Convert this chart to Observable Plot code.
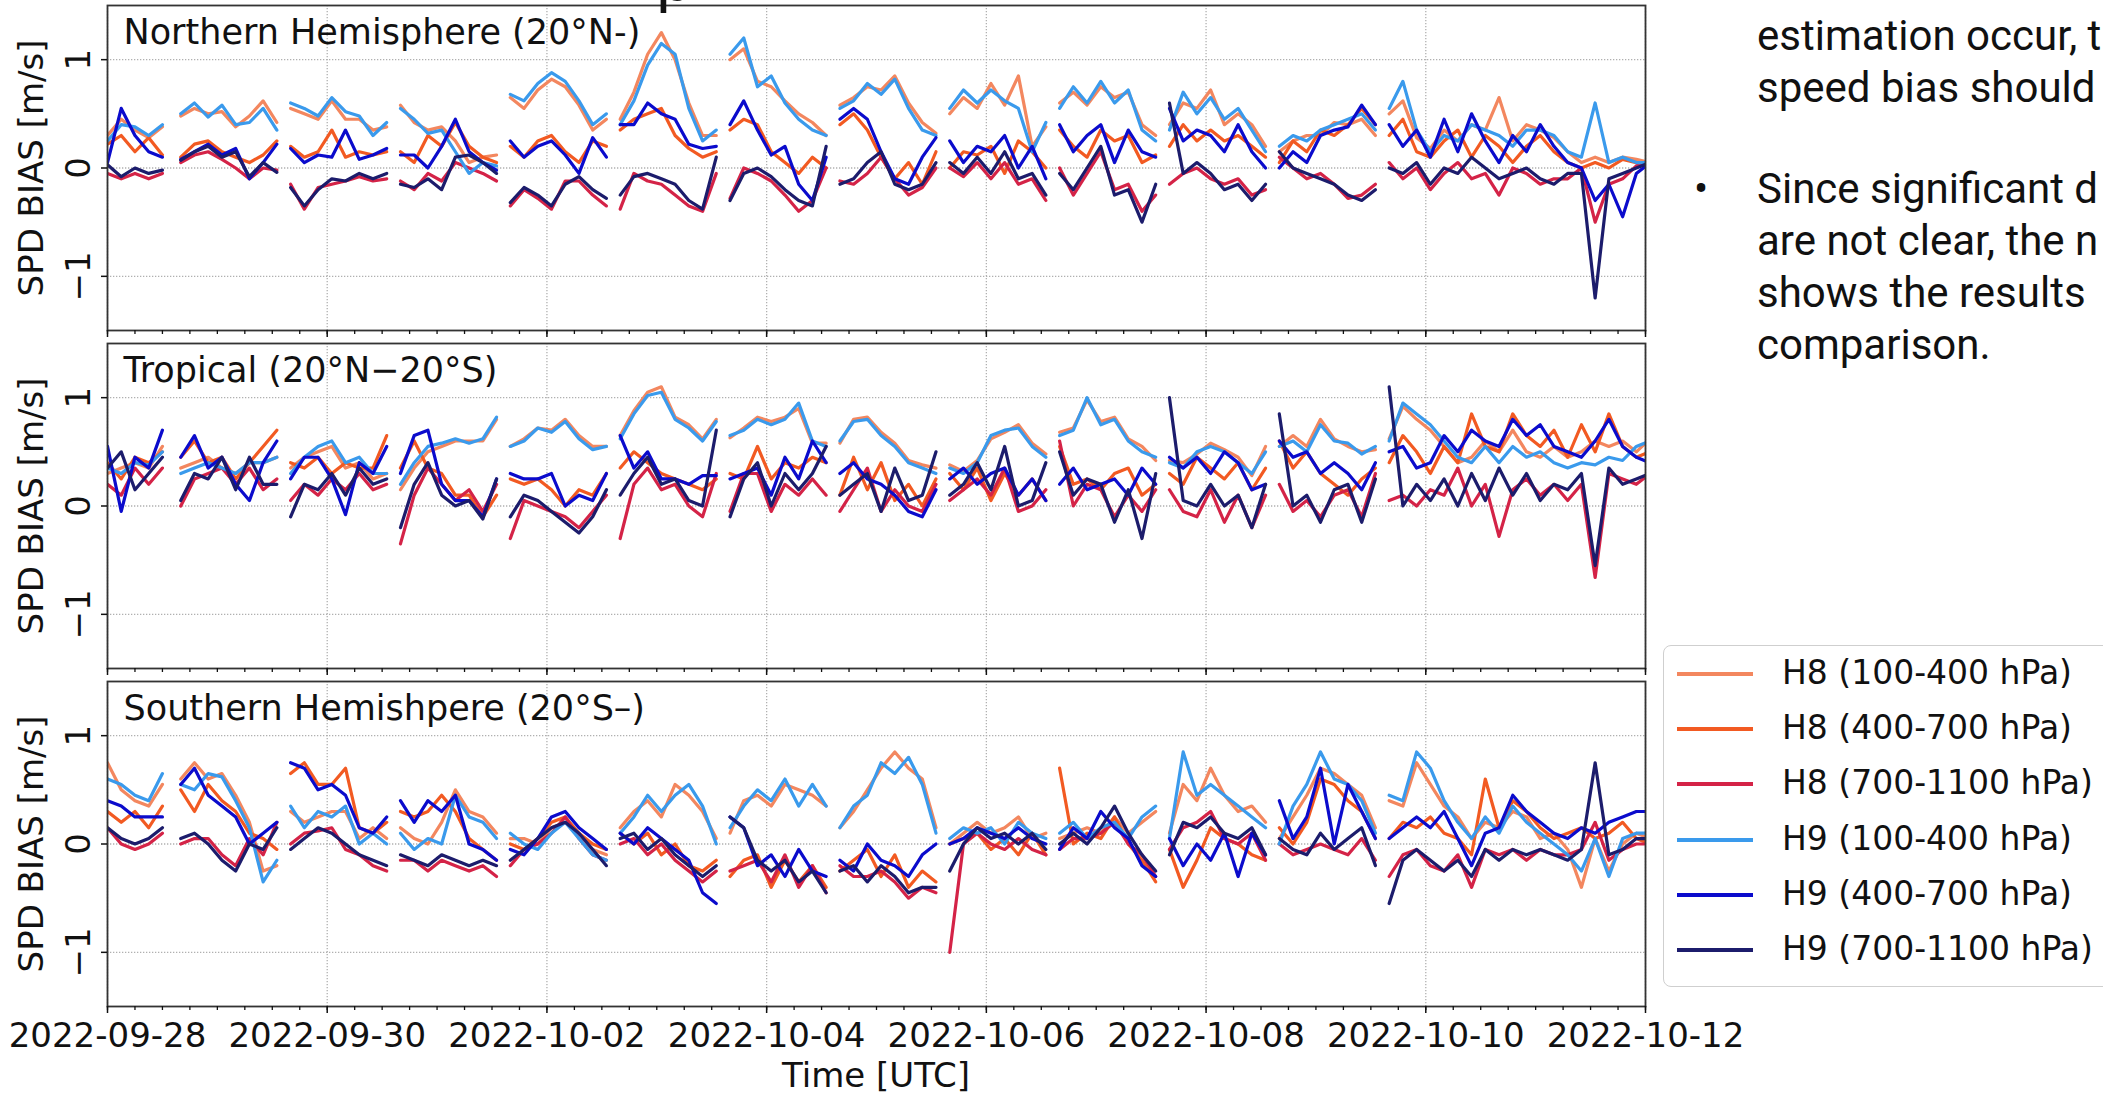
<!DOCTYPE html>
<html>
<head>
<meta charset="utf-8">
<script src="https://cdn.jsdelivr.net/npm/d3@7"></script>
<script src="https://cdn.jsdelivr.net/npm/@observablehq/plot@0.6"></script>
<style>
html, body { margin: 0; padding: 0; background: #fff; }
body { width: 2103px; height: 1093px; overflow: hidden; position: relative; font-family: "DejaVu Sans", sans-serif; color: #111; }
.panel { position: absolute; left: 0; width: 1760px; }
.panel svg { overflow: visible; display: block; }
#titlefrag { position: absolute; left: 655px; top: -52px; font: 62px/62px "DejaVu Sans"; color: #111; z-index: 5; }
#xlabel { position: absolute; left: 107px; width: 1538px; top: 1055px; text-align: center; font: 34px/40px "DejaVu Sans"; color: #111; }
#legend { position: absolute; left: 1663px; top: 645px; width: 470px; height: 342px; border: 1.5px solid #cfcfcf; border-radius: 8px; background: #fff; box-sizing: border-box; z-index: 4; }
.lg-line { position: absolute; left: 13px; width: 76px; height: 4px; }
.lg-text { position: absolute; left: 118px; font: 33px/40px "DejaVu Sans"; color: #111; white-space: nowrap; }
.note { position: absolute; left: 1757px; font: 42px/42px Roboto, sans-serif; color: #111; white-space: nowrap; }
.bullet { position: absolute; left: 1694px; font: 42px/42px Roboto, sans-serif; color: #111; }
</style>
</head>
<body>
<div id="titlefrag">p</div>
<div id="p0" class="panel" style="top:0px"></div>
<div id="p1" class="panel" style="top:338px"></div>
<div id="p2" class="panel" style="top:676px"></div>
<div id="xlabel">Time [UTC]</div>
<div id="legend"></div>
<div class="note" style="top:15px">estimation occur, t</div>
<div class="note" style="top:67px">speed bias should</div>
<div class="bullet" style="top:168px">•</div>
<div class="note" style="top:168px">Since significant d</div>
<div class="note" style="top:220px">are not clear, the n</div>
<div class="note" style="top:272px">shows the results</div>
<div class="note" style="top:324px">comparison.</div>
<script>
// ---------- categories ----------
const seriesNames = ["H8 (100-400 hPa)", "H8 (400-700 hPa)", "H8 (700-1100 hPa)", "H9 (100-400 hPa)", "H9 (400-700 hPa)", "H9 (700-1100 hPa)"];
const seriesColors = ["#f3875f", "#f25a22", "#d42347", "#3a9aec", "#0b0bcc", "#1c1c6c"];
const regionTitles = ["Northern Hemisphere (20°N-)", "Tropical (20°N\u221220°S)", "Southern Hemishpere (20°S\u2013)"];
const yLabel = "SPD BIAS [m/s]";
const xDomain = ["2022-09-28T00:00Z", "2022-10-12T00:00Z"];
const yTickValues = [-1, 0, 1];
// observation segments: start time of each run, samples every 3 hours
const segStart = ["2022-09-28T00:00Z","2022-09-28T16:00Z","2022-09-29T16:00Z","2022-09-30T16:00Z","2022-10-01T16:00Z","2022-10-02T16:00Z","2022-10-03T16:00Z","2022-10-04T16:00Z","2022-10-05T16:00Z","2022-10-06T16:00Z","2022-10-07T16:00Z","2022-10-08T16:00Z","2022-10-09T16:00Z"];
const stepHours = 3;

// ---------- Northern Hemisphere ----------
const nh_h8_100_400 = [[0.30,0.45,0.35,0.28,0.38],[0.48,0.55,0.50,0.52,0.38,0.48,0.62,0.42],[0.55,0.50,0.45,0.62,0.45,0.45,0.35,0.38],[0.58,0.42,0.35,0.38,0.25,0.05,0.10,0.12],[0.65,0.55,0.72,0.82,0.75,0.58,0.35,0.45],[0.45,0.70,1.05,1.25,1.00,0.60,0.30,0.30],[1.00,1.10,0.80,0.75,0.62,0.50,0.42,0.30],[0.58,0.65,0.75,0.72,0.85,0.60,0.42,0.32],[0.50,0.65,0.55,0.78,0.58,0.85,0.20,0.38],[0.60,0.70,0.58,0.75,0.65,0.70,0.40,0.30],[0.40,0.60,0.55,0.72,0.40,0.50,0.40,0.20],[0.15,0.25,0.30,0.30,0.42,0.40,0.45,0.30],[0.50,0.62,0.28,0.18,0.35,0.25,0.40,0.35,0.65,0.25,0.40,0.35,0.28,0.15,0.05,0.10,0.05,0.10,0.08,0.05]];
const nh_h8_400_700 = [[0.22,0.30,0.15,0.28,0.12],[0.10,0.22,0.25,0.15,0.10,0.05,0.12,0.25],[0.20,0.10,0.15,0.35,0.10,0.15,0.12,0.15],[0.15,0.05,0.30,0.20,0.42,0.20,0.10,0.05],[0.20,0.10,0.25,0.30,0.15,0.05,0.25,0.20],[0.35,0.45,0.50,0.55,0.30,0.18,0.10,0.15],[0.35,0.45,0.40,0.15,0.05,-0.05,0.10,0.00],[0.40,0.50,0.35,0.10,-0.10,0.05,-0.15,0.15],[0.00,0.15,0.12,0.20,-0.05,0.25,0.15,0.00],[0.35,0.20,0.10,0.35,0.25,0.30,0.05,0.12],[0.20,0.40,0.25,0.35,0.25,0.30,0.20,0.10],[0.05,0.25,0.15,0.35,0.30,0.40,0.55,0.40],[0.30,0.45,0.15,0.10,0.25,0.35,0.10,0.30,0.20,0.05,0.20,0.30,0.15,0.05,0.00,0.05,0.00,0.08,0.05,0.02]];
const nh_h8_700_1100 = [[-0.05,-0.10,-0.05,-0.10,-0.05],[0.05,0.12,0.15,0.08,0.00,-0.10,0.00,-0.02],[-0.15,-0.38,-0.18,-0.15,-0.12,-0.08,-0.12,-0.10],[-0.12,-0.20,-0.05,-0.12,0.05,0.00,-0.05,-0.12],[-0.35,-0.20,-0.28,-0.38,-0.12,-0.12,-0.25,-0.35],[-0.38,-0.05,-0.12,-0.15,-0.25,-0.35,-0.40,-0.05],[-0.28,0.00,-0.05,-0.12,-0.25,-0.40,-0.30,0.00],[-0.12,-0.15,-0.05,0.10,-0.10,-0.25,-0.18,0.00],[0.00,-0.08,0.05,-0.10,0.05,-0.15,-0.10,-0.30],[0.00,-0.25,-0.05,0.15,-0.20,-0.15,-0.40,-0.25],[-0.15,-0.05,0.00,-0.10,-0.15,-0.10,-0.25,-0.20],[0.10,0.00,-0.10,-0.05,-0.15,-0.28,-0.25,-0.15],[0.05,-0.10,0.00,-0.20,-0.05,0.05,-0.10,-0.05,-0.25,0.00,-0.05,-0.15,-0.10,-0.10,0.00,-0.50,-0.15,-0.10,0.02,0.05]];
const nh_h9_100_400 = [[0.25,0.40,0.38,0.30,0.40],[0.50,0.60,0.47,0.58,0.40,0.42,0.55,0.35],[0.60,0.55,0.48,0.65,0.52,0.48,0.30,0.42],[0.55,0.45,0.32,0.35,0.15,-0.05,0.05,0.02],[0.68,0.62,0.78,0.88,0.80,0.62,0.40,0.50],[0.40,0.62,0.95,1.15,1.05,0.55,0.25,0.35],[1.05,1.20,0.75,0.85,0.60,0.45,0.35,0.30],[0.55,0.62,0.78,0.68,0.82,0.55,0.35,0.30],[0.55,0.72,0.60,0.72,0.62,0.55,0.15,0.42],[0.55,0.75,0.60,0.80,0.60,0.72,0.35,0.25],[0.35,0.70,0.50,0.65,0.45,0.55,0.35,0.15],[0.20,0.30,0.25,0.35,0.40,0.45,0.50,0.35],[0.55,0.80,0.35,0.15,0.30,0.25,0.40,0.35,0.30,0.20,0.35,0.35,0.30,0.15,0.10,0.60,0.05,0.10,0.05,0.05]];
const nh_h9_400_700 = [[0.05,0.55,0.30,0.15,0.10],[0.08,0.15,0.22,0.12,0.18,-0.10,0.05,0.22],[0.18,0.05,0.12,0.10,0.35,0.08,0.12,0.18],[0.12,0.12,0.00,0.20,0.45,0.15,0.05,-0.02],[0.25,0.10,0.20,0.25,0.12,-0.05,0.28,0.10],[0.40,0.40,0.60,0.50,0.45,0.22,0.18,0.20],[0.40,0.62,0.35,0.12,0.20,-0.15,-0.30,0.10],[0.45,0.55,0.45,0.15,-0.10,-0.15,0.10,0.28],[0.25,0.05,0.20,0.15,0.30,0.00,0.20,-0.10],[0.40,0.15,0.30,0.40,0.05,0.35,0.15,0.10],[0.55,0.25,0.35,0.30,0.15,0.40,0.15,0.00],[0.00,0.15,0.05,0.30,0.35,0.38,0.58,0.40],[0.40,0.20,0.35,0.10,0.45,0.15,0.50,0.25,0.05,0.30,0.15,0.40,0.20,0.05,0.00,-0.30,-0.15,-0.45,-0.05,0.05]];
const nh_h9_700_1100 = [[0.03,-0.08,0.00,-0.05,-0.02],[0.07,0.15,0.20,0.10,0.15,-0.08,0.05,-0.04],[-0.18,-0.35,-0.20,-0.10,-0.12,-0.05,-0.10,-0.05],[-0.15,-0.18,-0.10,-0.20,0.10,0.12,0.05,-0.05],[-0.32,-0.18,-0.25,-0.35,-0.15,-0.08,-0.20,-0.28],[-0.25,-0.08,-0.05,-0.10,-0.15,-0.30,-0.38,0.10],[-0.30,-0.05,0.00,-0.08,-0.20,-0.30,-0.35,0.20],[-0.15,-0.10,0.05,0.15,-0.15,-0.20,-0.15,0.05],[0.05,-0.05,0.10,-0.05,0.15,-0.10,-0.05,-0.25],[-0.05,-0.20,0.00,0.20,-0.25,-0.20,-0.50,-0.15],[0.60,-0.05,0.05,-0.05,-0.20,-0.15,-0.30,-0.15],[0.15,0.00,-0.05,-0.10,-0.15,-0.25,-0.30,-0.20],[0.00,-0.05,0.05,-0.15,0.00,-0.05,0.10,0.00,-0.10,-0.05,0.00,-0.10,-0.15,-0.05,-0.05,-1.20,-0.10,-0.05,0.00,0.05]];

// ---------- Tropical ----------
const tr_h8_100_400 = [[0.30,0.35,0.40,0.35,0.55],[0.35,0.40,0.45,0.35,0.30,0.40,0.40,0.45],[0.35,0.45,0.50,0.55,0.35,0.40,0.25,0.30],[0.15,0.35,0.50,0.55,0.60,0.60,0.60,0.80],[0.55,0.62,0.72,0.70,0.80,0.65,0.55,0.55],[0.65,0.88,1.05,1.10,0.82,0.75,0.62,0.80],[0.63,0.72,0.82,0.78,0.82,0.90,0.58,0.58],[0.58,0.80,0.82,0.68,0.58,0.42,0.38,0.35],[0.38,0.32,0.42,0.62,0.68,0.75,0.58,0.48],[0.68,0.72,0.98,0.78,0.82,0.62,0.55,0.42],[0.42,0.40,0.48,0.58,0.52,0.45,0.28,0.55],[0.55,0.65,0.55,0.80,0.62,0.55,0.50,0.52],[0.62,0.92,0.80,0.70,0.55,0.40,0.45,0.60,0.50,0.70,0.50,0.45,0.55,0.45,0.50,0.60,0.55,0.60,0.50,0.62]];
const tr_h8_400_700 = [[0.40,0.25,0.45,0.40,0.50],[0.45,0.60,0.40,0.45,0.25,0.40,0.55,0.70],[0.40,0.35,0.45,0.30,0.40,0.35,0.35,0.65],[0.35,0.60,0.35,0.30,0.10,0.10,-0.10,0.10],[0.25,0.20,0.25,0.15,0.00,0.15,0.10,0.30],[0.35,0.50,0.40,0.30,0.25,0.20,0.15,0.25],[0.30,0.25,0.55,0.25,0.40,0.35,0.45,0.40],[0.10,0.45,0.15,0.40,0.05,0.20,0.00,0.25],[0.30,0.15,0.35,0.05,0.30,0.10,0.25,0.05],[0.55,0.20,0.25,0.15,0.30,0.35,0.10,0.20],[0.30,0.20,0.45,0.35,0.25,0.40,0.15,0.35],[0.60,0.35,0.50,0.30,0.20,0.10,0.25,0.35],[0.40,0.65,0.50,0.30,0.55,0.40,0.85,0.55,0.50,0.85,0.65,0.55,0.70,0.45,0.75,0.50,0.85,0.55,0.45,0.50]];
const tr_h8_700_1100 = [[0.20,0.10,0.35,0.20,0.35],[0.00,0.25,0.30,0.35,0.20,0.35,0.15,0.25],[0.05,0.20,0.10,0.25,0.15,0.30,0.15,0.20],[-0.35,0.10,0.35,0.20,0.05,0.15,-0.05,0.20],[-0.30,0.05,0.00,-0.05,-0.10,-0.20,-0.05,0.10],[-0.30,0.20,0.35,0.15,0.20,0.00,-0.10,0.30],[-0.05,0.30,0.30,-0.05,0.20,0.10,0.25,0.10],[-0.05,0.15,0.35,-0.05,0.15,0.00,-0.05,0.20],[0.05,0.15,0.25,0.10,0.35,-0.05,0.00,0.15],[0.60,0.00,0.20,0.15,-0.10,0.10,-0.05,0.15],[0.15,-0.05,-0.10,0.15,-0.15,0.10,-0.20,0.10],[0.20,-0.05,0.05,-0.10,0.10,0.15,-0.10,0.30],[0.05,0.10,0.00,0.15,0.10,0.35,0.00,0.20,-0.28,0.15,0.25,0.10,0.20,0.05,0.20,-0.66,0.30,0.25,0.20,0.30]];
const tr_h9_100_400 = [[0.35,0.30,0.40,0.38,0.50],[0.30,0.35,0.40,0.35,0.30,0.40,0.40,0.45],[0.30,0.45,0.55,0.60,0.40,0.45,0.30,0.30],[0.20,0.40,0.55,0.58,0.62,0.58,0.62,0.82],[0.55,0.60,0.72,0.68,0.78,0.62,0.52,0.55],[0.62,0.85,1.02,1.05,0.80,0.72,0.60,0.78],[0.65,0.70,0.80,0.75,0.80,0.95,0.60,0.55],[0.60,0.78,0.80,0.65,0.55,0.40,0.35,0.30],[0.35,0.30,0.40,0.65,0.70,0.72,0.55,0.45],[0.65,0.70,1.00,0.75,0.80,0.60,0.50,0.45],[0.40,0.35,0.50,0.55,0.50,0.40,0.30,0.50],[0.55,0.60,0.50,0.75,0.60,0.58,0.48,0.55],[0.60,0.95,0.85,0.75,0.60,0.45,0.40,0.55,0.40,0.55,0.45,0.50,0.40,0.35,0.40,0.38,0.45,0.42,0.55,0.60]];
const tr_h9_400_700 = [[0.55,-0.05,0.45,0.35,0.70],[0.45,0.65,0.35,0.45,0.20,0.05,0.40,0.60],[0.25,0.45,0.45,0.25,-0.08,0.40,0.30,0.55],[0.30,0.65,0.70,0.20,0.05,0.05,-0.10,0.25],[0.30,0.25,0.25,0.30,0.00,0.10,0.05,0.30],[0.65,0.35,0.50,0.25,0.25,0.20,0.28,0.28],[0.25,0.30,0.35,0.10,0.45,0.25,0.60,0.40],[0.30,0.40,0.25,0.20,0.10,-0.05,-0.10,0.15],[0.25,0.35,0.20,0.30,0.35,0.10,0.25,0.05],[0.20,0.35,0.15,0.20,0.25,0.10,0.35,0.20],[0.45,0.35,0.45,0.30,0.50,0.40,0.15,0.20],[0.60,0.45,0.50,0.30,0.40,0.30,0.15,0.40],[0.50,0.55,0.35,0.40,0.65,0.50,0.70,0.60,0.55,0.80,0.65,0.75,0.55,0.50,0.45,0.60,0.80,0.55,0.45,0.40]];
const tr_h9_700_1100 = [[0.35,0.50,0.15,0.30,0.45],[0.05,0.30,0.25,0.45,0.15,0.45,0.20,0.20],[-0.10,0.20,0.15,0.30,0.10,0.35,0.20,0.25],[-0.20,0.20,0.40,0.10,0.00,0.05,-0.12,0.25],[-0.10,0.10,0.05,-0.05,-0.15,-0.25,-0.10,0.15],[0.10,0.30,0.45,0.20,0.25,0.05,0.00,0.70],[-0.10,0.25,0.40,0.00,0.30,0.15,0.30,0.55],[0.10,0.20,0.30,-0.05,0.35,0.05,0.10,0.50],[0.10,0.20,0.40,0.15,0.55,0.00,0.05,0.40],[0.50,0.10,0.25,0.20,-0.15,0.15,-0.30,0.30],[1.00,0.05,0.00,0.20,0.00,0.10,-0.20,0.20],[0.85,0.00,0.10,-0.15,0.15,0.20,-0.15,0.25],[1.10,0.00,0.20,0.05,0.25,0.00,0.30,0.05,0.35,0.10,0.30,0.05,0.20,0.15,0.30,-0.55,0.35,0.20,0.25,0.30]];

// ---------- Southern Hemisphere ----------
const sh_h8_100_400 = [[0.75,0.50,0.40,0.35,0.55],[0.60,0.75,0.60,0.65,0.45,0.20,-0.25,-0.20],[0.30,0.20,0.25,0.30,0.30,0.05,0.15,0.05],[0.15,0.05,0.00,0.20,0.50,0.30,0.25,0.10],[0.05,0.05,0.00,0.15,0.20,0.10,-0.05,-0.10],[0.15,0.30,0.40,0.25,0.55,0.45,0.30,0.05],[0.10,0.40,0.45,0.35,0.55,0.50,0.45,0.35],[0.15,0.30,0.50,0.70,0.85,0.70,0.60,0.15],[0.00,0.10,0.20,0.10,0.15,0.25,0.05,0.10],[0.05,0.10,0.15,0.10,0.25,0.10,0.20,0.30],[0.10,0.55,0.40,0.70,0.45,0.30,0.35,0.20],[0.05,0.25,0.45,0.70,0.65,0.55,0.45,0.15],[0.40,0.35,0.75,0.55,0.35,0.25,0.05,0.20,0.15,0.30,0.25,0.05,0.10,-0.05,-0.40,0.05,-0.25,0.00,0.10,0.05]];
const sh_h8_400_700 = [[0.30,0.20,0.30,0.15,0.35],[0.50,0.30,0.55,0.40,0.30,0.10,0.05,-0.05],[0.65,0.75,0.55,0.55,0.70,0.15,0.10,0.20],[0.30,0.25,0.30,0.45,0.30,0.05,-0.05,-0.15],[0.00,-0.05,0.05,0.20,0.25,0.10,0.00,-0.05],[0.10,0.00,0.10,-0.10,0.00,-0.20,-0.25,-0.15],[-0.30,-0.15,-0.10,-0.40,-0.15,-0.35,-0.20,-0.40],[-0.25,-0.15,-0.05,-0.30,-0.10,-0.40,-0.25,-0.35],[0.00,0.05,0.10,-0.05,0.05,-0.10,0.10,-0.10],[0.70,0.00,0.10,0.05,0.25,0.00,-0.15,-0.35],[-0.05,-0.40,-0.15,0.15,0.05,0.00,-0.10,-0.15],[0.15,0.00,0.20,0.60,0.55,0.40,0.30,0.05],[0.05,0.20,0.15,0.25,0.10,0.05,-0.10,0.60,0.15,0.40,0.30,0.15,0.05,0.10,0.15,0.05,0.10,0.20,0.05,0.00]];
const sh_h8_700_1100 = [[0.15,0.00,-0.05,0.00,0.10],[0.00,0.05,0.05,-0.10,-0.20,0.05,-0.10,0.20],[0.00,0.10,0.12,0.15,-0.05,-0.10,-0.20,-0.25],[-0.15,-0.15,-0.25,-0.15,-0.20,-0.25,-0.20,-0.30],[-0.20,-0.05,0.00,0.10,0.25,0.05,-0.10,-0.15],[0.00,0.05,-0.10,0.00,-0.15,-0.25,-0.35,-0.25],[-0.25,-0.20,-0.15,-0.35,-0.10,-0.40,-0.20,-0.45],[-0.20,-0.30,-0.30,-0.25,-0.35,-0.50,-0.40,-0.45],[-1.00,0.00,0.10,0.00,-0.05,0.05,-0.05,-0.10],[-0.05,0.05,0.05,0.10,0.20,0.00,-0.10,-0.30],[-0.05,0.15,0.20,0.30,0.05,0.00,0.10,-0.15],[0.00,-0.10,-0.05,0.00,-0.05,-0.10,0.05,-0.15],[-0.30,-0.10,-0.05,-0.20,-0.25,-0.10,-0.40,-0.05,-0.10,-0.05,-0.15,-0.05,-0.10,-0.10,-0.05,0.20,-0.15,-0.05,0.00,0.00]];
const sh_h9_100_400 = [[0.60,0.55,0.45,0.40,0.65],[0.55,0.50,0.65,0.62,0.40,0.15,-0.35,-0.15],[0.35,0.15,0.30,0.25,0.35,0.00,0.10,0.00],[0.10,-0.05,0.05,0.00,0.45,0.25,0.20,0.05],[0.10,0.00,-0.05,0.10,0.20,0.05,-0.10,-0.15],[0.10,0.25,0.45,0.30,0.45,0.55,0.35,0.00],[0.15,0.35,0.50,0.40,0.60,0.35,0.55,0.35],[0.15,0.35,0.45,0.75,0.65,0.80,0.55,0.10],[0.05,0.15,0.10,0.15,0.00,0.20,0.10,0.05],[0.10,0.20,0.05,0.15,0.20,0.05,0.25,0.35],[0.05,0.85,0.45,0.55,0.45,0.35,0.25,0.15],[0.00,0.35,0.55,0.85,0.60,0.55,0.40,0.10],[0.45,0.40,0.85,0.70,0.40,0.20,0.05,0.25,0.10,0.35,0.20,0.10,0.00,-0.10,-0.25,0.05,-0.30,0.05,0.10,0.10]];
const sh_h9_400_700 = [[0.40,0.35,0.25,0.25,0.25],[0.55,0.70,0.45,0.35,0.25,0.00,0.10,0.20],[0.75,0.70,0.50,0.55,0.45,0.15,0.10,0.25],[0.40,0.20,0.40,0.30,0.45,0.00,-0.05,-0.15],[-0.05,-0.10,0.05,0.25,0.30,0.15,0.05,-0.05],[0.10,0.00,0.15,0.05,-0.05,-0.15,-0.45,-0.55],[0.25,0.15,-0.20,-0.10,-0.30,-0.05,-0.25,-0.30],[-0.15,-0.25,0.00,-0.15,-0.20,-0.30,-0.10,0.00],[0.00,0.05,0.15,0.10,0.05,0.15,0.05,0.00],[-0.05,0.15,0.05,0.30,0.15,0.05,-0.20,-0.30],[0.05,-0.20,0.00,-0.15,0.10,-0.30,0.10,-0.10],[0.40,0.05,0.25,0.70,0.00,0.55,0.30,0.05],[0.05,0.15,0.25,0.15,0.30,0.05,-0.20,0.10,0.15,0.45,0.30,0.20,0.10,0.05,0.15,0.10,0.20,0.25,0.30,0.30]];
const sh_h9_700_1100 = [[0.15,0.05,0.00,0.05,0.15],[0.05,0.10,0.00,-0.15,-0.25,0.00,-0.05,0.15],[-0.05,0.05,0.15,0.10,0.00,-0.10,-0.15,-0.20],[-0.10,-0.15,-0.20,-0.10,-0.15,-0.20,-0.15,-0.20],[-0.15,-0.05,0.05,0.15,0.20,0.10,-0.05,-0.20],[0.05,0.10,-0.05,0.05,-0.10,-0.20,-0.30,-0.20],[0.25,0.15,-0.15,-0.25,-0.15,-0.35,-0.25,-0.45],[-0.25,-0.20,-0.35,-0.20,-0.30,-0.45,-0.40,-0.40],[-0.25,0.00,0.15,0.05,0.10,0.00,0.10,-0.05],[0.00,0.10,0.00,0.15,0.35,0.10,-0.10,-0.25],[-0.10,0.20,0.15,0.25,0.10,0.05,0.15,-0.10],[0.05,-0.05,-0.10,0.10,-0.05,0.05,0.15,-0.20],[-0.55,-0.15,-0.05,-0.15,-0.25,-0.15,-0.30,-0.05,-0.15,-0.05,-0.10,-0.05,-0.10,-0.15,-0.05,0.75,-0.10,-0.05,0.05,0.05]];

// ---------- build tables ----------
const regionSeries = [
  [nh_h8_100_400, nh_h8_400_700, nh_h8_700_1100, nh_h9_100_400, nh_h9_400_700, nh_h9_700_1100],
  [tr_h8_100_400, tr_h8_400_700, tr_h8_700_1100, tr_h9_100_400, tr_h9_400_700, tr_h9_700_1100],
  [sh_h8_100_400, sh_h8_400_700, sh_h8_700_1100, sh_h9_100_400, sh_h9_400_700, sh_h9_700_1100]
];

function rowsFor(r) {
  const rows = [];
  regionSeries[r].forEach((segs, si) => {
    segs.forEach((seg, k) => {
      const t0 = new Date(segStart[k]).getTime();
      seg.forEach((v, j) => rows.push({t: new Date(t0 + j * stepHours * 3600e3), v, s: seriesNames[si], g: si + "|" + k}));
    });
  });
  return rows;
}

const x0 = new Date(xDomain[0]), x1 = new Date(xDomain[1]);
const majorTicks = d3.range(0, 15, 2).map(k => d3.utcDay.offset(x0, k));
const minorTicks = d3.utcHours(x0, new Date(x1.getTime() + 1), 6);
const gridStyle = {stroke: "#b0b0b0", strokeOpacity: 1, strokeWidth: 1.3, strokeDasharray: "1.3,1.7"};

function panel(r, bottom) {
  const mb = bottom ? 60 : 8;
  const fmt = d3.utcFormat("%Y-%m-%d");
  return Plot.plot({
    width: 1760, height: 5 + 325 + mb,
    marginLeft: 107, marginRight: 1760 - 1645, marginTop: 5, marginBottom: mb,
    x: {type: "utc", domain: [x0, x1], label: null},
    y: {domain: [-1.5, 1.5], label: null},
    color: {domain: seriesNames, range: seriesColors},
    style: {fontFamily: "DejaVu Sans", fontSize: "34px", color: "#111", background: "transparent", overflow: "visible"},
    marks: [
      Plot.gridX(majorTicks, gridStyle),
      Plot.gridY(yTickValues, gridStyle),
      Plot.line(rowsFor(r), {x: "t", y: "v", z: "g", stroke: "s", strokeWidth: 3.2, clip: true}),
      Plot.frame({stroke: "#333", strokeWidth: 1.8}),
      Plot.axisX(minorTicks, {tickSize: 4, tickFormat: () => "", label: null, strokeWidth: 1.3}),
      Plot.axisX(majorTicks, {tickSize: 7, tickPadding: 9, tickFormat: bottom ? fmt : () => "", label: null, fontSize: 34, strokeWidth: 1.5}),
      Plot.axisY(yTickValues, {tickSize: 6, tickFormat: () => "", label: null, strokeWidth: 1.5}),
      Plot.text(yTickValues, {y: d => d, text: d => d < 0 ? "\u22121" : String(d), frameAnchor: "left", dx: -18, rotate: -90, textAnchor: "middle", lineAnchor: "bottom", fontSize: 34}),
      Plot.text([yLabel], {frameAnchor: "left", dx: -75, rotate: -90, textAnchor: "middle", lineAnchor: "middle", fontSize: 34}),
      Plot.text([regionTitles[r]], {frameAnchor: "top-left", dx: 16, dy: 14, textAnchor: "start", lineAnchor: "top", fontSize: 35})
    ]
  });
}

document.getElementById("p0").append(panel(0, false));
document.getElementById("p1").append(panel(1, false));
document.getElementById("p2").append(panel(2, true));

// legend
const lg = document.getElementById("legend");
const rowCenters = [674, 729, 784, 840, 895, 950];
seriesNames.forEach((name, i) => {
  const cy = rowCenters[i] - 646.5;
  const ln = document.createElement("div");
  ln.className = "lg-line";
  ln.style.top = (cy - 2) + "px";
  ln.style.background = seriesColors[i];
  const tx = document.createElement("div");
  tx.className = "lg-text";
  tx.style.top = (cy - 21) + "px";
  tx.textContent = name;
  lg.append(ln, tx);
});
</script>
</body>
</html>
